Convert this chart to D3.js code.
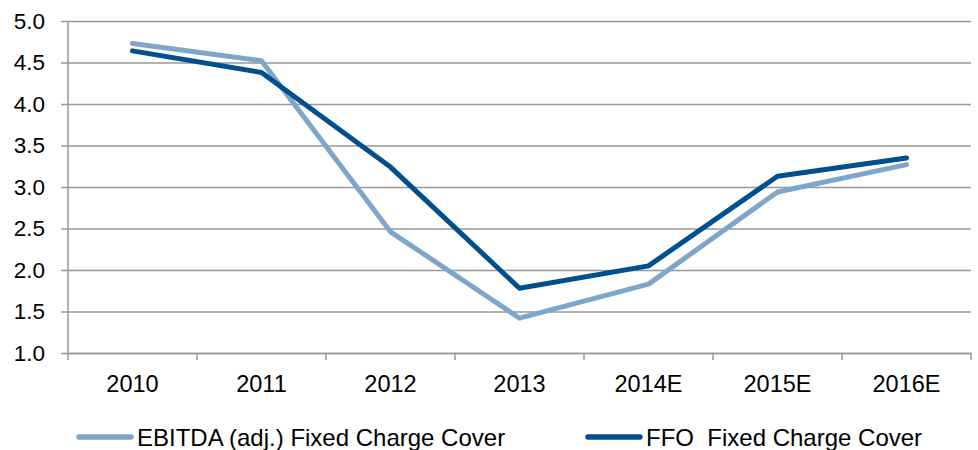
<!DOCTYPE html>
<html>
<head>
<meta charset="utf-8">
<script src="https://cdn.jsdelivr.net/npm/d3@7"></script>
<style>
body { margin: 0; background: #fff; }
text { font-family: "Liberation Sans", Arial, sans-serif; fill: #000; white-space: pre; }
</style>
</head>
<body>
<div id="chart-area"></div>
<script>
var years = ["2010", "2011", "2012", "2013", "2014E", "2015E", "2016E"];
var ebitda = [4.73, 4.52, 2.46, 1.42, 1.83, 2.94, 3.27];
var ffo = [4.64, 4.38, 3.24, 1.78, 2.05, 3.13, 3.35];
var yTicks = [1.0, 1.5, 2.0, 2.5, 3.0, 3.5, 4.0, 4.5, 5.0];
var seriesNames = ["EBITDA (adj.) Fixed Charge Cover", "FFO  Fixed Charge Cover"];
var colors = ["#7EA6CA", "#004F8E"];

var margin = {top: 21, right: 7, bottom: 97, left: 68};
var width = 978 - margin.left - margin.right;
var height = 450 - margin.top - margin.bottom;

var svg = d3.select("#chart-area").append("svg")
	.attr("width", 978)
	.attr("height", 450);

var g = svg.append("g")
	.attr("transform", "translate(" + margin.left + ", " + margin.top + ")");

var x = d3.scaleBand()
	.domain(years)
	.range([0, width]);

var y = d3.scaleLinear()
	.domain([1, 5])
	.range([height, 0]);

// gridlines + y axis
var leftAxis = d3.axisLeft(y)
	.tickValues(yTicks)
	.tickSize(-width)
	.tickPadding(23)
	.tickFormat(d3.format(".1f"));
var ya = g.append("g")
	.attr("class", "left axis")
	.call(leftAxis);
ya.select(".domain").remove();
ya.selectAll(".tick line")
	.attr("x1", -7)
	.attr("stroke", "#999")
	.attr("stroke-width", 1.5);
ya.selectAll(".tick text")
	.attr("font-size", "22.5px")
	.attr("font-family", "Liberation Sans, Arial, sans-serif")
	.attr("fill", "#000");

g.append("line")
	.attr("x1", 0).attr("x2", 0)
	.attr("y1", 0).attr("y2", height)
	.attr("stroke", "#999")
	.attr("stroke-width", 1.5);

// x axis
var bottomAxis = d3.axisBottom(x).tickSize(0).tickPadding(22);
var xa = g.append("g")
	.attr("class", "bottom axis")
	.attr("transform", "translate(0, " + height + ")")
	.call(bottomAxis);
xa.select(".domain")
	.attr("stroke", "#999")
	.attr("stroke-width", 1.5);
xa.selectAll(".tick text")
	.attr("font-size", "23.5px")
	.attr("font-family", "Liberation Sans, Arial, sans-serif")
	.attr("fill", "#000");

var bounds = years.map((d) => x(d)).concat([width]);
xa.selectAll(".bound").data(bounds).enter().append("line")
	.attr("class", "bound")
	.attr("x1", (d) => d).attr("x2", (d) => d)
	.attr("y1", 0).attr("y2", 7)
	.attr("stroke", "#999")
	.attr("stroke-width", 1.5);

// lines
var line = d3.line()
	.x((d, i) => x(years[i]) + x.bandwidth() / 2)
	.y((d) => y(d));

[ebitda, ffo].forEach((s, i) => {
	g.append("path")
		.datum(s)
		.attr("d", line)
		.attr("fill", "none")
		.attr("stroke", colors[i])
		.attr("stroke-width", 5)
		.attr("stroke-linejoin", "round")
		.attr("stroke-linecap", "round");
});

// legend
var legendX = [77, 586];
seriesNames.forEach((name, i) => {
	var lg = svg.append("g")
		.attr("transform", "translate(" + legendX[i] + ", 437)");
	lg.append("line")
		.attr("x1", 2).attr("x2", 54)
		.attr("y1", 0).attr("y2", 0)
		.attr("stroke", colors[i])
		.attr("stroke-width", 5.5)
		.attr("stroke-linecap", "round");
	lg.append("text")
		.attr("x", 60)
		.attr("y", 8.5)
		.attr("font-size", "24px")
		.text(name);
});
</script>
</body>
</html>
